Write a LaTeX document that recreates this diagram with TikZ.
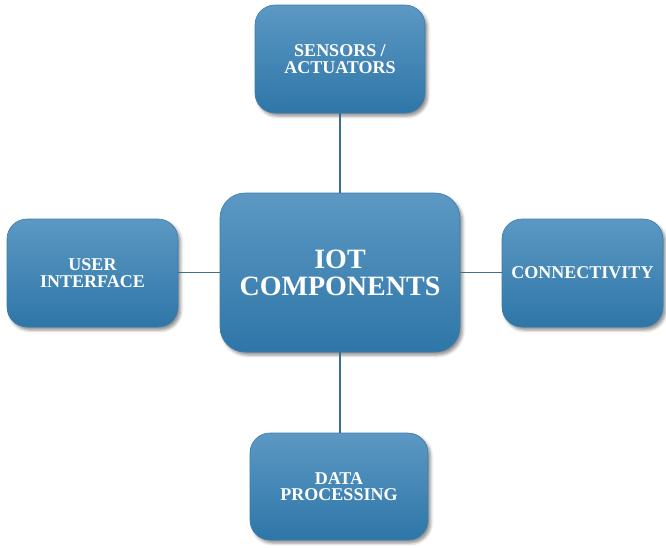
\documentclass[tikz,border=0pt]{standalone}
\usepackage{fontspec}
\setmainfont{Liberation Serif}
\newfontfamily\boxfont{Liberation Serif}
\usetikzlibrary{shadows.blur}
\definecolor{boxtop}{HTML}{5C98C3}
\definecolor{boxbot}{HTML}{2E76A8}
\definecolor{boxedge}{HTML}{3A7CAB}
\definecolor{linkcol}{HTML}{3F6D8C}
\tikzset{
  comp/.style={rounded corners=20pt, top color=boxtop, bottom color=boxbot,
    draw=boxedge, line width=0.6pt, align=center, text=white,
    font=\boxfont\bfseries\fontsize{18}{16.5}\selectfont, inner sep=0pt,
    blur shadow={shadow xshift=2.5pt, shadow yshift=-3pt, shadow blur radius=3pt, shadow opacity=45}},
  link/.style={draw=linkcol, line width=1.3pt}
}
\begin{document}
\begin{tikzpicture}[x=1pt,y=-1pt]
\useasboundingbox (0,0) rectangle (666,547);
% centre hub
\node[comp, rounded corners=25pt, minimum width=240pt, minimum height=159pt,
  font=\boxfont\bfseries\fontsize{28}{27}\selectfont] (hub) at (340,272.5) {IOT\\COMPONENTS};
% surrounding components
\node[comp, minimum width=170pt, minimum height=108pt] (sens) at (340,59) {SENSORS /\\ACTUATORS};
\node[comp, minimum width=171pt, minimum height=108pt] (ui) at (92.5,273) {USER\\INTERFACE};
\node[comp, minimum width=161pt, minimum height=108pt] (conn) at (582.5,273) {CONNECTIVITY};
\node[comp, minimum width=178pt, minimum height=107pt] (data) at (339,486.5) {DATA\\PROCESSING};
% links to the hub
\draw[link] (sens.south -| hub.north) -- (hub.north);
\draw[link] (hub.south) -- (hub.south |- data.north);
\draw[link] (ui.east |- hub.west) -- (hub.west);
\draw[link] (hub.east) -- (hub.east -| conn.west);
\end{tikzpicture}
\end{document}
